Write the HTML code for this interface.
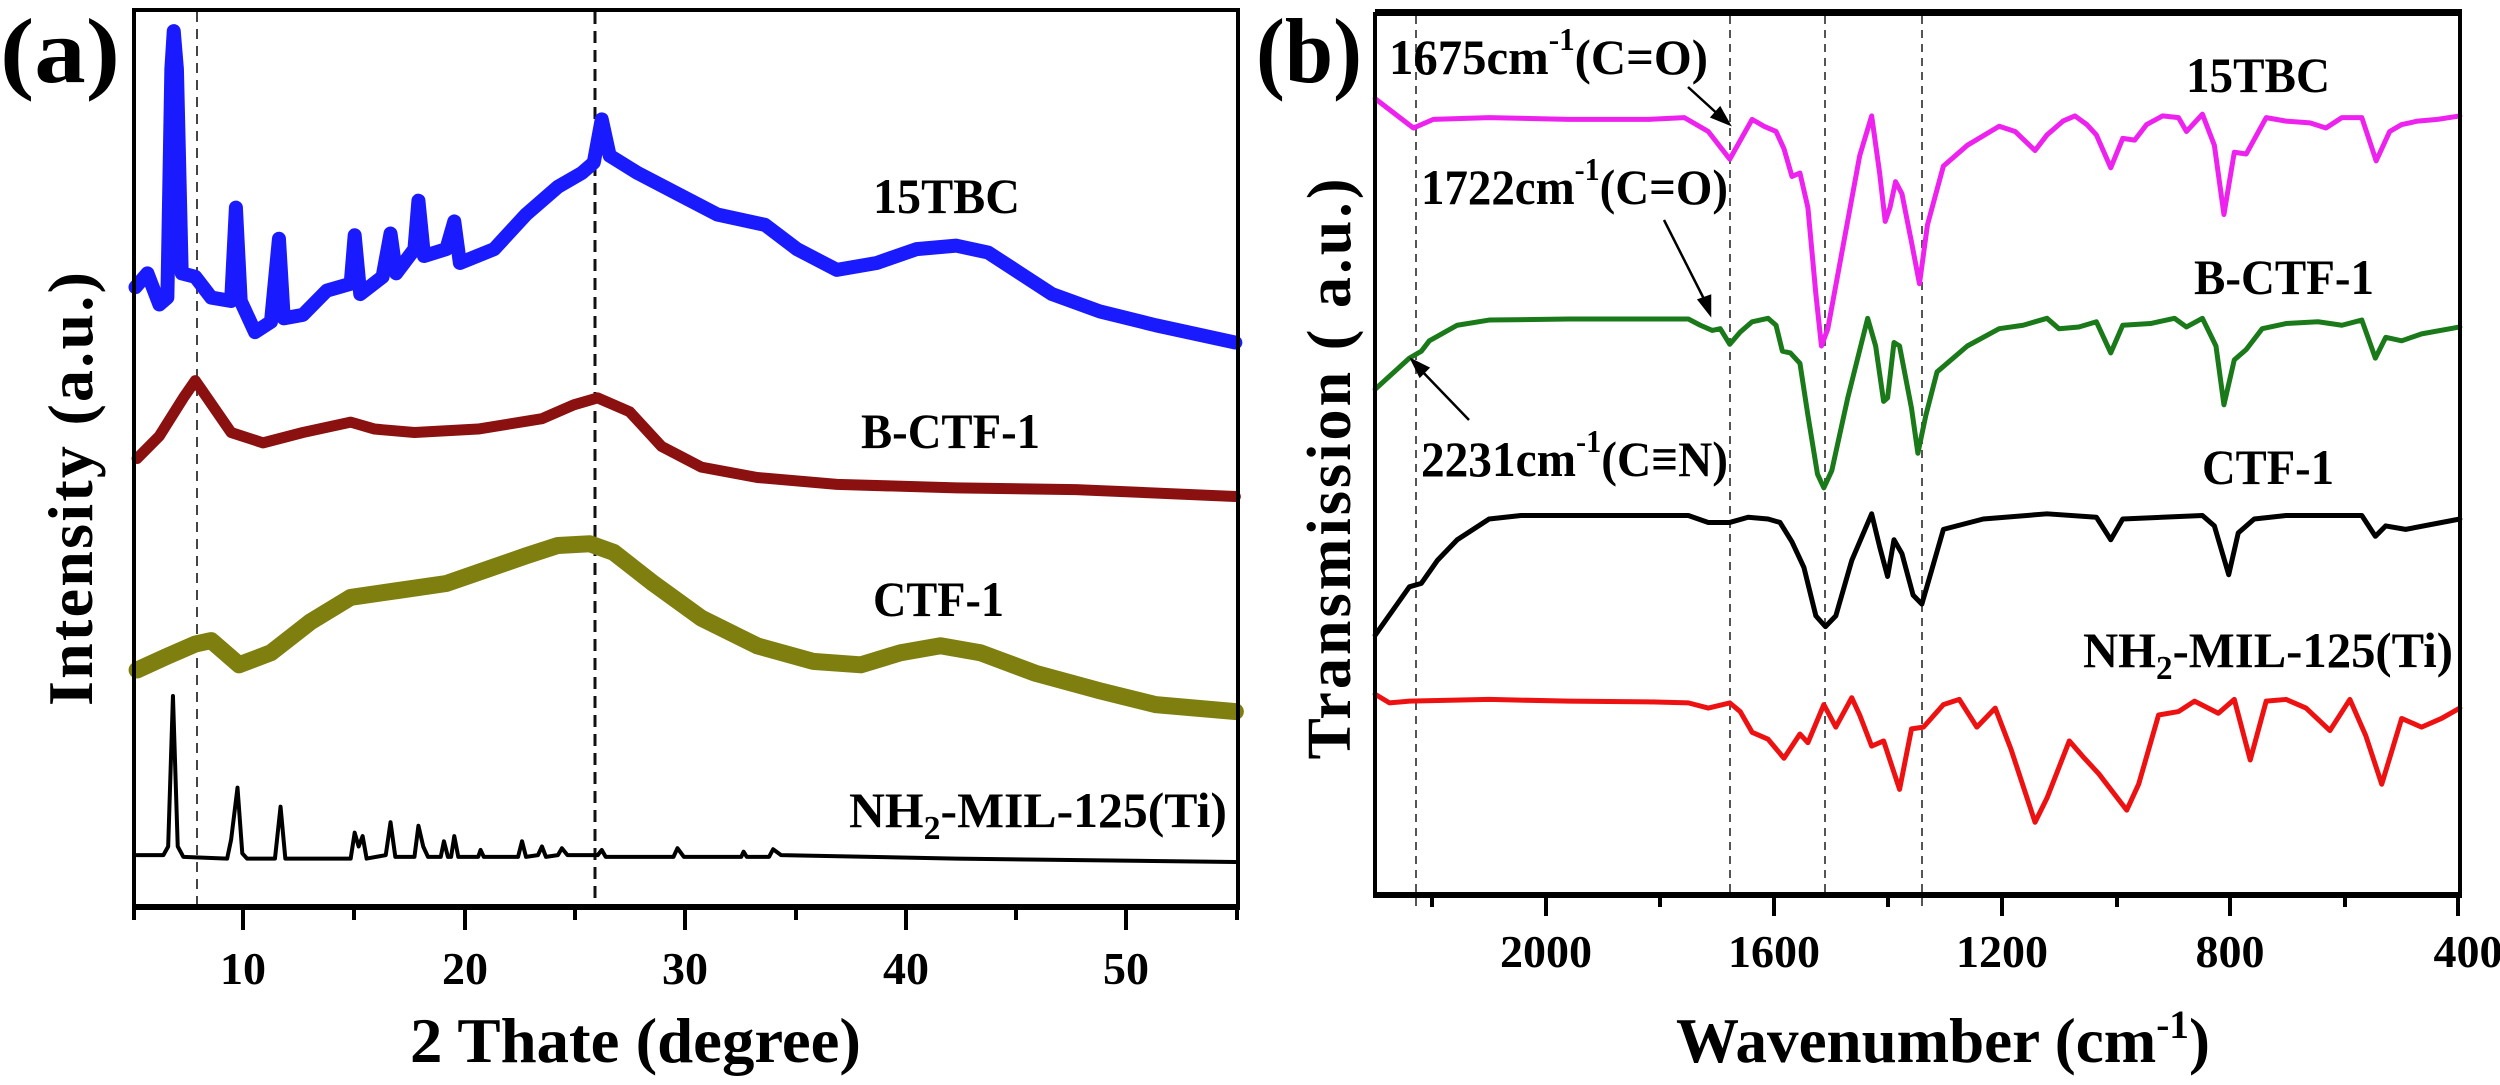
<!DOCTYPE html>
<html><head><meta charset="utf-8"><style>
html,body{margin:0;padding:0;background:#fff;}
svg{display:block;}
text{font-family:"Liberation Serif",serif;font-weight:bold;fill:#000;}
.c{fill:none;stroke-linejoin:round;stroke-linecap:round;vector-effect:non-scaling-stroke;}
</style></head><body>
<svg width="2500" height="1085" viewBox="0 0 2500 1085" xmlns="http://www.w3.org/2000/svg">
<rect width="2500" height="1085" fill="#fff"/>

<!-- ============ PANEL A ============ -->
<!-- dashed lines -->
<line x1="197" y1="12" x2="197" y2="905" stroke="#444" stroke-width="2" stroke-dasharray="10,7"/>
<line x1="595" y1="12" x2="595" y2="905" stroke="#111" stroke-width="3" stroke-dasharray="12,7"/>

<g transform="translate(0,0) scale(0.797,0.346)">
<polyline class="c" stroke="#1a1aff" stroke-width="14" points="170,830 185,790 200,880 210,860 215,200 218,90 222,200 228,790 245,800 265,860 290,870 296,600 302,870 320,960 340,930 350,690 356,920 380,910 410,840 440,820 445,680 452,850 480,800 490,675 497,790 520,720 525,580 532,740 560,720 570,640 577,760 620,720 660,620 700,540 730,500 745,470 755,345 765,450 800,500 850,560 900,620 960,650 1000,720 1050,780 1100,760 1150,720 1200,710 1240,730 1280,790 1320,850 1380,900 1450,940 1550,990"/>
<polyline class="c" stroke="#8b1010" stroke-width="11" points="172,1325 200,1260 230,1150 245,1100 260,1150 290,1250 330,1280 380,1250 440,1220 470,1240 520,1250 600,1240 680,1210 720,1170 750,1150 790,1190 830,1290 880,1350 950,1380 1050,1400 1200,1410 1350,1415 1550,1435"/>
</g>
<g transform="translate(0,542) scale(0.797,0.346)">
<polyline class="c" stroke="#7f7f10" stroke-width="17" points="172,370 210,330 245,295 265,285 300,355 340,320 390,230 440,160 500,140 560,120 610,80 660,40 700,10 740,5 770,30 820,120 880,220 950,300 1020,345 1080,355 1130,320 1180,300 1230,320 1300,380 1380,430 1450,470 1550,490"/>
<polyline class="c" stroke="#000" stroke-width="4" points="172,905 205,905 211,880 217,445 223,880 230,910 285,915 290,860 298,710 304,900 310,915 345,915 352,765 358,915 440,915 445,840 450,880 455,850 460,915 484,905 490,810 496,910 520,910 525,820 531,880 537,910 553,910 557,865 562,910 566,910 570,850 575,910 600,910 603,890 607,910 650,910 655,865 660,910 675,905 680,880 685,910 700,905 705,885 712,905 750,905 755,890 760,910 845,910 850,885 858,910 930,910 933,895 937,910 965,910 970,888 980,905 1200,915 1550,925"/>
</g>

<!-- frame a -->
<rect x="134" y="10" width="1104" height="897" fill="none" stroke="#000" stroke-width="4"/>
<line x1="132" y1="907" x2="1240" y2="907" stroke="#000" stroke-width="6"/>
<g stroke="#000" stroke-width="4">
<line x1="134" y1="907" x2="134" y2="920"/>
<line x1="243" y1="907" x2="243" y2="930"/>
<line x1="354" y1="907" x2="354" y2="920"/>
<line x1="465" y1="907" x2="465" y2="930"/>
<line x1="575" y1="907" x2="575" y2="920"/>
<line x1="685" y1="907" x2="685" y2="930"/>
<line x1="796" y1="907" x2="796" y2="920"/>
<line x1="906" y1="907" x2="906" y2="930"/>
<line x1="1016" y1="907" x2="1016" y2="920"/>
<line x1="1126" y1="907" x2="1126" y2="930"/>
<line x1="1237" y1="907" x2="1237" y2="920"/>
</g>
<g font-size="46" text-anchor="middle">
<text x="243" y="984">10</text><text x="465" y="984">20</text><text x="685" y="984">30</text><text x="906" y="984">40</text><text x="1126" y="984">50</text>
</g>
<text x="410" y="1062" font-size="64" textLength="451" lengthAdjust="spacingAndGlyphs">2 Thate (degree)</text>
<text transform="translate(92,486) rotate(-90)" font-size="64" text-anchor="middle" textLength="440" lengthAdjust="spacing" letter-spacing="6">Intensity (a.u.)</text>
<text x="0" y="82" font-size="92" textLength="120" lengthAdjust="spacingAndGlyphs">(a)</text>
<text x="873" y="213" font-size="50" textLength="147" lengthAdjust="spacingAndGlyphs">15TBC</text>
<text x="861" y="448" font-size="50" textLength="179" lengthAdjust="spacingAndGlyphs">B-CTF-1</text>
<text x="873" y="616" font-size="50" textLength="131" lengthAdjust="spacingAndGlyphs">CTF-1</text>
<text x="849" y="827" font-size="50" textLength="378" lengthAdjust="spacingAndGlyphs">NH<tspan font-size="34" dy="12">2</tspan><tspan dy="-12">-MIL-125(Ti)</tspan></text>

<!-- ============ PANEL B ============ -->
<g stroke="#555" stroke-width="2" stroke-dasharray="8,6">
<line x1="1416" y1="16" x2="1416" y2="910"/>
<line x1="1730" y1="16" x2="1730" y2="895"/>
<line x1="1825" y1="16" x2="1825" y2="895"/>
<line x1="1922" y1="16" x2="1922" y2="910"/>
</g>
<g transform="translate(1250,0) scale(0.797,0.346)">
<polyline class="c" stroke="#ee22ee" stroke-width="5" points="157,285 205,370 230,345 300,340 400,345 500,345 545,340 575,380 602,460 630,345 645,365 660,380 670,430 680,510 690,500 700,600 710,850 717,1000 725,950 745,700 765,450 780,335 790,500 797,640 803,600 810,525 818,560 830,700 840,820 850,650 870,480 900,420 940,365 960,380 985,435 1000,390 1020,350 1035,335 1050,360 1062,390 1080,485 1095,400 1110,405 1125,360 1145,335 1165,340 1175,380 1195,330 1210,420 1222,620 1235,440 1250,445 1275,340 1300,350 1330,355 1350,370 1370,340 1395,340 1413,465 1430,380 1445,360 1465,350 1490,345 1518,335"/>
<polyline class="c" stroke="#1a7a1a" stroke-width="5" points="157,1125 200,1035 215,1015 225,985 260,940 300,925 400,922 550,922 565,940 580,955 590,950 602,995 615,960 630,930 650,920 660,940 668,1015 678,1020 690,1050 700,1200 712,1370 720,1410 730,1360 750,1150 775,920 785,1000 795,1160 800,1150 808,990 815,1000 830,1180 838,1310 848,1200 862,1075 900,1000 940,950 970,940 1000,920 1015,950 1040,945 1062,930 1080,1020 1095,940 1130,935 1160,920 1175,945 1195,920 1212,1000 1222,1170 1235,1040 1250,1010 1270,950 1300,935 1340,930 1370,940 1395,925 1412,1035 1425,975 1445,985 1470,965 1518,945"/>
<polyline class="c" stroke="#000" stroke-width="5" points="157,1836 200,1696 215,1686 235,1620 260,1560 300,1500 340,1490 550,1490 575,1510 602,1510 625,1495 650,1500 665,1510 680,1566 695,1640 710,1780 722,1811 735,1780 755,1620 780,1485 790,1580 800,1666 808,1560 818,1600 832,1720 843,1746 855,1650 870,1530 920,1500 1000,1485 1062,1495 1080,1560 1095,1500 1195,1490 1210,1520 1228,1661 1240,1540 1260,1500 1300,1490 1395,1490 1412,1550 1425,1520 1450,1530 1518,1500"/>
</g>
<g transform="translate(1250,542) scale(0.797,0.346)">
<polyline class="c" stroke="#ee1111" stroke-width="5" points="157,440 175,465 200,460 300,455 400,460 500,462 550,465 575,480 602,465 615,490 630,550 650,570 670,625 690,555 700,580 720,470 735,535 755,450 765,500 780,590 795,575 815,715 830,540 845,535 870,470 890,455 912,535 935,480 955,600 985,810 1000,740 1028,575 1045,620 1065,670 1100,775 1115,700 1140,500 1165,490 1185,460 1215,495 1235,455 1255,630 1275,460 1300,455 1325,480 1355,545 1380,455 1400,560 1420,700 1445,510 1470,535 1495,510 1518,480"/>
</g>

<!-- frame b -->
<rect x="1375" y="14" width="1085" height="881" fill="none" stroke="#000" stroke-width="4"/>
<line x1="1375" y1="12" x2="2462" y2="12" stroke="#000" stroke-width="6"/>
<line x1="1373" y1="895" x2="2462" y2="895" stroke="#000" stroke-width="6"/>
<g stroke="#000" stroke-width="4">
<line x1="1432" y1="895" x2="1432" y2="907"/>
<line x1="1546" y1="895" x2="1546" y2="916"/>
<line x1="1660" y1="895" x2="1660" y2="907"/>
<line x1="1774" y1="895" x2="1774" y2="916"/>
<line x1="1888" y1="895" x2="1888" y2="907"/>
<line x1="2002" y1="895" x2="2002" y2="916"/>
<line x1="2117" y1="895" x2="2117" y2="907"/>
<line x1="2230" y1="895" x2="2230" y2="916"/>
<line x1="2345" y1="895" x2="2345" y2="907"/>
<line x1="2458" y1="895" x2="2458" y2="916"/>
</g>
<g font-size="46" text-anchor="middle">
<text x="1546" y="967">2000</text><text x="1774" y="967">1600</text><text x="2002" y="967">1200</text><text x="2230" y="967">800</text><text x="2468" y="967">400</text>
</g>
<text x="1676" y="1062" font-size="64" textLength="534" lengthAdjust="spacingAndGlyphs">Wavenumber (cm<tspan font-size="40" dy="-24">-1</tspan><tspan dy="24">)</tspan></text>
<text transform="translate(1350,466) rotate(-90)" font-size="62" text-anchor="middle" textLength="587" lengthAdjust="spacing" letter-spacing="6">Transmission ( a.u.)</text>
<text x="1256" y="82" font-size="92" textLength="106" lengthAdjust="spacingAndGlyphs">(b)</text>

<text x="1389" y="74" font-size="50" textLength="319" lengthAdjust="spacingAndGlyphs">1675cm<tspan font-size="32" dy="-24">-1</tspan><tspan dy="24">(C=O)</tspan></text>
<text x="1421" y="204" font-size="50" textLength="307" lengthAdjust="spacingAndGlyphs">1722cm<tspan font-size="32" dy="-24">-1</tspan><tspan dy="24">(C=O)</tspan></text>
<text x="1421" y="476" font-size="50" textLength="307" lengthAdjust="spacingAndGlyphs">2231cm<tspan font-size="32" dy="-24">-1</tspan><tspan dy="24">(C≡N)</tspan></text>
<g stroke="#000" stroke-width="2.5" fill="#000">
<line x1="1688" y1="87" x2="1722" y2="118"/><polygon points="1729,124 1712,117 1720,108"/>
<line x1="1664" y1="220" x2="1706" y2="303"/><polygon points="1710,314 1699,300 1710,296"/>
<line x1="1469" y1="420" x2="1418" y2="367"/><polygon points="1412,360 1428,368 1420,376"/>
</g>
<text x="2186" y="92" font-size="50" textLength="144" lengthAdjust="spacingAndGlyphs">15TBC</text>
<text x="2194" y="294" font-size="50" textLength="180" lengthAdjust="spacingAndGlyphs">B-CTF-1</text>
<text x="2202" y="484" font-size="50" textLength="132" lengthAdjust="spacingAndGlyphs">CTF-1</text>
<text x="2083" y="667" font-size="50" textLength="370" lengthAdjust="spacingAndGlyphs">NH<tspan font-size="34" dy="12">2</tspan><tspan dy="-12">-MIL-125(Ti)</tspan></text>
</svg>
</body></html>
